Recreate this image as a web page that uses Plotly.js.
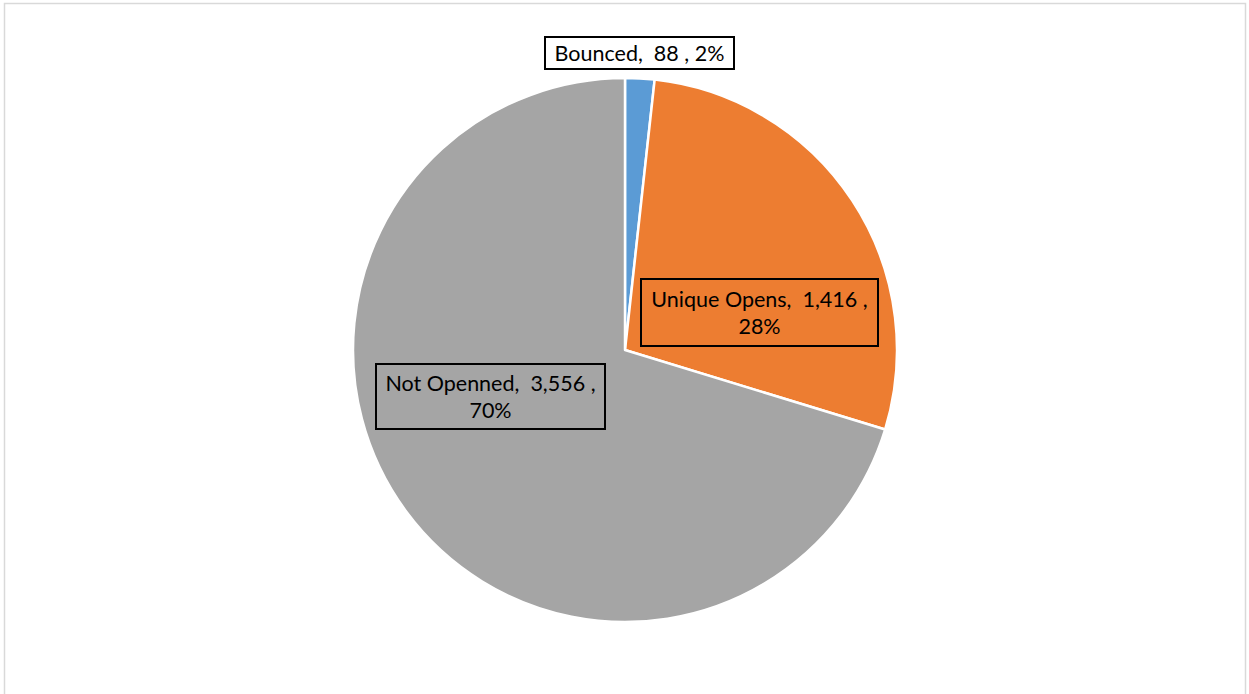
<!DOCTYPE html>
<html><head><meta charset="utf-8">
<script src="https://cdn.plot.ly/plotly-3.0.1.min.js"></script>
<style>html,body{margin:0;padding:0;background:#fff;}#chart{width:1249px;height:694px;}</style>
</head><body><div id="chart"></div>
<script>
const categories = ["Bounced", "Unique Opens", "Not Openned"];
const values = [88, 1416, 3556];
const colors = ["#5B9BD5", "#ED7D31", "#A5A5A5"];
const labelBg = ["#FFFFFF", "#ED7D31", "#A5A5A5"];
const labelBreak = [false, true, true];

const W = 1249, H = 694;
const total = values.reduce((a, b) => a + b, 0);
function fmt(n) { return n.toLocaleString("en-US"); }
const labelText = categories.map((c, i) => {
  const pct = Math.round(values[i] / total * 100) + "%";
  return c + ",  " + fmt(values[i]) + " ," + (labelBreak[i] ? "<br>" : " ") + pct;
});
// label box centres (px) and sizes
const labelPos = [[639.5, 53], [759.5, 312.5], [490.5, 396.5]];
const labelSize = [[187, 30], [235, 65], [227, 63]];

const trace = {
  type: "pie",
  labels: categories,
  values: values,
  sort: false,
  direction: "clockwise",
  rotation: 0,
  marker: { colors: colors, line: { color: "#FFFFFF", width: 2.5 } },
  textinfo: "none",
  hoverinfo: "label+value+percent",
  domain: { x: [353 / W, 897 / W], y: [(H - 622) / H, (H - 78) / H] },
  showlegend: false
};

const annotations = categories.map((c, i) => ({
  xref: "paper", yref: "paper",
  x: labelPos[i][0] / W, y: 1 - labelPos[i][1] / H,
  xanchor: "center", yanchor: "middle",
  text: labelText[i],
  showarrow: false,
  font: { family: "Lato, 'Open Sans', sans-serif", size: 21.5, color: "#000000" },
  bgcolor: labelBg[i],
  bordercolor: "#000000",
  borderwidth: 2,
  borderpad: 0,
  width: labelSize[i][0],
  height: labelSize[i][1],
  align: "center",
  valign: "middle"
}));

const layout = {
  width: W, height: H,
  margin: { l: 0, r: 0, t: 0, b: 0 },
  paper_bgcolor: "#FFFFFF",
  showlegend: false,
  annotations: annotations,
  shapes: [{
    type: "rect", xref: "paper", yref: "paper",
    x0: 4.5 / W, x1: 1245.5 / W, y0: -0.05, y1: 1 - 3.5 / H,
    line: { color: "#D9D9D9", width: 1.5 }, fillcolor: "rgba(0,0,0,0)", layer: "below"
  }]
};

Plotly.newPlot("chart", [trace], layout, { displayModeBar: false, staticPlot: true });
</script></body></html>
